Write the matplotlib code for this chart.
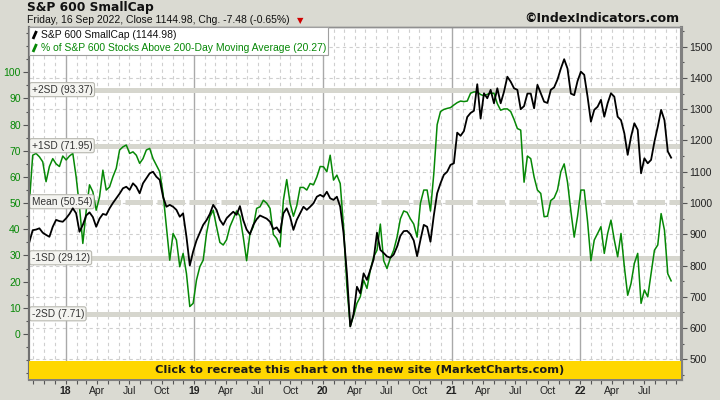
import numpy as np
import pandas as pd
import matplotlib
matplotlib.use('Agg')
import matplotlib.pyplot as plt
from matplotlib.lines import Line2D
from matplotlib.patches import Rectangle

# ---------------- data ----------------
start_date = '2017-09-20'
end_date = '2022-09-16'

smallcap = [
    875, 913, 915, 919, 905, 898, 892, 924, 946, 942,
    940, 951, 965, 983, 967, 908, 930, 960, 970, 955,
    924, 950, 965, 962, 983, 1000, 1015, 1030, 1047, 1052,
    1042, 1063, 1052, 1031, 1063, 1079, 1095, 1100, 1084, 1074,
    1020, 988, 994, 988, 978, 956, 967, 892, 800,
    845, 880, 905, 930, 945, 965, 994, 978, 946, 930,
    951, 962, 972, 962, 990, 945, 915, 900, 930, 948,
    960, 955, 950, 940, 916, 922, 905, 967, 983, 956,
    914, 946, 967, 988, 978, 988, 999, 1020, 1026, 1020,
    1036, 1015, 1010, 1020, 988, 903, 775, 605, 645,
    732, 711, 775, 754, 786, 820, 905, 850, 840, 829,
    825, 835, 860, 895, 910, 911, 900, 880, 830, 882,
    930, 924, 876, 960, 1031, 1063, 1090, 1100, 1122, 1127,
    1225, 1215, 1230, 1275, 1288, 1295, 1380, 1270, 1351, 1335,
    1362, 1319, 1367, 1319, 1356, 1404, 1388, 1367, 1362,
    1300, 1310, 1350, 1350, 1303, 1378, 1351, 1324, 1320, 1362,
    1370, 1395, 1430, 1460, 1430, 1350, 1345, 1390, 1420, 1410,
    1340, 1260, 1298, 1308, 1330, 1276, 1319, 1351, 1340, 1276,
    1265, 1223, 1154, 1212, 1255, 1234, 1095, 1143, 1127, 1138,
    1196, 1244, 1298, 1265, 1165, 1145,
]

pct_above_200dma = [
    50, 68.3, 69, 67.7, 65.8, 58.2, 64, 67, 65, 64,
    68, 66.5, 68, 69, 60, 48.6, 34.6, 47, 57, 54.3,
    47.3, 52.4, 62.6, 55, 56.2, 60.1, 63.3, 70.3, 71.5, 72.2,
    69, 69.6, 68.3, 65.2, 67, 70.3, 70.9, 67, 64.5, 62,
    53.7, 41, 28.2, 38.4, 35.9, 25.7, 30.8, 23.1, 10.5,
    11.7, 20.6, 25.7, 28.2, 38.4, 44.8, 47.3, 41, 35, 34,
    36, 41, 44, 47, 45, 37, 28, 38.4, 41, 48,
    48.6, 51.1, 50, 48, 38, 36.5, 33.3, 51.1, 59, 50,
    45, 49, 56, 56, 55, 57.5, 57, 60, 64, 63.9,
    62, 68.3, 58.8, 60.7, 57.5, 41, 18, 3, 7,
    11.7, 14.2, 20.6, 17.4, 24.4, 29.5, 32, 42, 28, 25,
    29, 32, 37, 44, 47, 46.5, 44, 42, 37, 50,
    55, 55, 47, 61.3, 80, 85, 85.8, 86.2, 86.5, 87.5,
    88.4, 89, 88.8, 89, 92, 92.5, 92.5, 91.5, 91, 91.6,
    92, 92, 88, 85.5, 86, 86, 85, 82, 78.5,
    77.9, 58, 68, 67, 60, 55, 53.7, 44.8, 45, 51,
    52, 55, 62, 65, 58, 47, 37, 45, 55, 55,
    43, 28, 35.9, 38.4, 41, 30.8, 38.4, 43.5, 35.9, 29.5,
    38.4, 25.7, 14.8, 19.3, 27, 30.8, 11.7, 16.8, 14.2, 23.1,
    32, 34, 46, 39.7, 23, 20.3,
]

sd_levels = [93.37, 71.95, 50.54, 29.12, 7.71]
sd_names = ['+2SD', '+1SD', 'Mean', '-1SD', '-2SD']
left_ticks = list(range(0, 101, 10))
right_ticks = list(range(500, 1501, 100))
month_labels = {4: 'Apr', 7: 'Jul', 10: 'Oct'}
first_label, last_label = '2018-01-01', '2022-07-01'

title = 'S&P 600 SmallCap'
subtitle = 'Friday, 16 Sep 2022, Close 1144.98, Chg. -7.48 (-0.65%)'
legend_black = 'S&P 600 SmallCap (1144.98)'
legend_green = '% of S&P 600 Stocks Above 200-Day Moving Average (20.27)'
banner_text = 'Click to recreate this chart on the new site (MarketCharts.com)'
copyright_text = '\u00a9IndexIndicators.com'

# ---------------- figure ----------------
W, H = 720, 400
GREEN = '#068806'
BG = '#dadad2'
SMALL = 'Liberation Sans'

fig = plt.figure(figsize=(W / 100, H / 100), dpi=100)
fig.patch.set_facecolor(BG)

ax = fig.add_axes([29 / W, 21 / H, 652 / W, 352 / H])
ax.set_facecolor('white')
ax2 = ax.twinx()

LLIM = (-17.2, 117.3)
RLIM = (437.0, 1563.0)
ax.set_ylim(*LLIM)
ax2.set_ylim(*RLIM)

dates = pd.date_range(start_date, end_date, periods=len(smallcap))
x0 = pd.Timestamp('2017-09-19')
x1 = pd.Timestamp('2022-10-14')
ax.set_xlim(x0, x1)
ax2.set_xlim(x0, x1)


def right_to_left(r):
    return LLIM[0] + (np.asarray(r) - RLIM[0]) * (LLIM[1] - LLIM[0]) / (RLIM[1] - RLIM[0])


# vertical grid: monthly dashed, yearly solid
months = pd.date_range('2017-10-01', '2022-10-01', freq='MS')
for m in months:
    if m.month == 1:
        ax.axvline(m, color='#a9a9a9', lw=1.0, zorder=0.6)
    else:
        ax.axvline(m, color='#cfcfcf', lw=0.8, ls=(0, (3, 3)), zorder=0.5)

# horizontal grid at right-axis hundreds
for r in right_ticks:
    ax.axhline(right_to_left(r), color='#cfcfcf', lw=0.8, ls=(0, (3, 3)), zorder=0.5)

# SD bands
for v, name in zip(sd_levels, sd_names):
    ln = ax.axhline(v, color='#d6d6ce', lw=3.6, zorder=1)
    if name == 'Mean':
        ln.set_dashes((5.5, 0.9))
    ax.text(0.004, v, f'{name} ({v:.2f})', transform=ax.get_yaxis_transform(),
            fontsize=7.3, family=SMALL, color='#333333', va='center', ha='left', zorder=3,
            bbox=dict(boxstyle='round,pad=0.2,rounding_size=0.2', fc='#f4f4f0', ec='#b8b8b0', lw=0.8))

ax.plot(dates, pct_above_200dma, color=GREEN, lw=1.1, zorder=2)
ax2.plot(dates, smallcap, color='black', lw=1.3, zorder=2)

# banner
ax2.add_patch(Rectangle((0, 0), 1, 18 / 352, transform=ax2.transAxes,
                        facecolor='#ffd700', edgecolor='none', zorder=10, clip_on=False))
ax2.text(0.507, 9 / 352, banner_text, transform=ax2.transAxes, ha='center', va='center',
         fontsize=8.2, fontweight='bold', color='#1a1a1a', zorder=11)

# legend box
ax2.add_patch(Rectangle((0, 1 - 28 / 352), 299 / 652, 28 / 352, transform=ax2.transAxes,
                        facecolor='white', edgecolor='#a0a0a0', lw=0.8, zorder=12))
ax2.text(12 / 652, 1 - 8 / 352, legend_black, transform=ax2.transAxes, fontsize=7.5,
         family=SMALL, color='#111111', va='center', ha='left', zorder=13)
ax2.text(12 / 652, 1 - 21 / 352, legend_green, transform=ax2.transAxes, fontsize=7.5,
         family=SMALL, color=GREEN, va='center', ha='left', zorder=13)
for yy, col in ((8, 'black'), (21, GREEN)):
    ax2.add_line(Line2D([4 / 652, 7.5 / 652], [1 - (yy + 4) / 352, 1 - (yy - 4) / 352],
                        transform=ax2.transAxes, color=col, lw=2.0, zorder=13,
                        solid_capstyle='butt'))

# axes styling
for a in (ax, ax2):
    a.spines['left'].set_color('#707070')
    a.spines['left'].set_linewidth(1.5)
    a.spines['right'].set_color('#808080')
    a.spines['right'].set_linewidth(2.2)
    a.spines['bottom'].set_color('#808080')
    a.spines['bottom'].set_linewidth(2.2)
    a.spines['top'].set_color('#909090')
    a.spines['top'].set_linewidth(1.0)

ax.set_yticks(left_ticks)
ax.set_yticks(list(range(-15, 116, 5)), minor=True)
ax.set_yticklabels([str(t) for t in left_ticks])
ax.tick_params(axis='y', which='major', length=4, width=0.8, colors='#555555',
               labelcolor=GREEN, labelsize=7.5, pad=2)
ax.tick_params(axis='y', which='minor', length=2.5, width=0.8, colors='#555555')
for lab in ax.get_yticklabels():
    lab.set_family(SMALL)

ax2.set_yticks(right_ticks)
ax2.set_yticks(list(range(450, 1551, 50)), minor=True)
ax2.set_yticklabels([str(t) for t in right_ticks])
ax2.tick_params(axis='y', which='major', length=4, width=0.8, colors='#555555',
                labelcolor='#222222', labelsize=7.5, pad=2)
ax2.tick_params(axis='y', which='minor', length=2.5, width=0.8, colors='#555555')
for lab in ax2.get_yticklabels():
    lab.set_family(SMALL)

# x ticks
major_dates, major_labels, is_year = [], [], []
for m in months:
    if m < pd.Timestamp(first_label) or m > pd.Timestamp(last_label):
        continue
    if m.month == 1:
        major_dates.append(m); major_labels.append(m.strftime('%y')); is_year.append(True)
    elif m.month in month_labels:
        major_dates.append(m); major_labels.append(month_labels[m.month]); is_year.append(False)
ax.set_xticks(major_dates)
ax.set_xticklabels(major_labels)
ax.set_xticks(list(months), minor=True)
ax.tick_params(axis='x', which='both', length=3.5, width=0.8, colors='#555555',
               labelcolor='#222222', labelsize=7.5, pad=1.5)
for lab, yr in zip(ax.get_xticklabels(), is_year):
    lab.set_family(SMALL)
    if yr:
        lab.set_fontweight('bold')
ax2.tick_params(axis='x', which='both', bottom=False, labelbottom=False)

# header texts
fig.text(27 / W, 1 - 8 / H, title, fontsize=8.8, fontweight='bold', color='#111111',
         va='center', ha='left')
fig.text(27 / W, 1 - 20 / H, subtitle, fontsize=7.5, family=SMALL, color='#111111',
         va='center', ha='left')
fig.text(300 / W, 1 - 21 / H, '\u25bc', fontsize=6, color='#d00000', va='center', ha='center')
fig.text(679 / W, 1 - 19 / H, copyright_text, fontsize=9, fontweight='bold', color='#111111',
         va='center', ha='right')

fig.savefig('out.png', dpi=100, facecolor=BG)
